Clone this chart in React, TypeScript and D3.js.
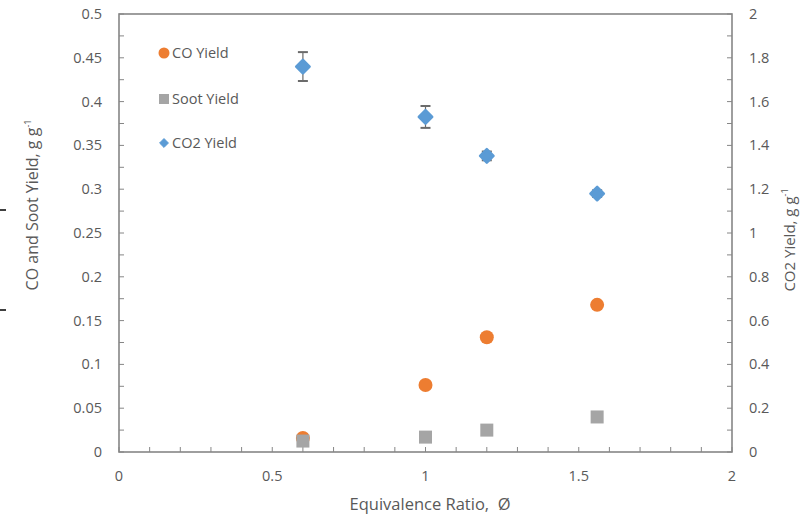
import React from "react";
import * as d3 from "d3";

const ratios = [0.6, 1.0, 1.2, 1.56];
const coYield = [0.016, 0.0765, 0.131, 0.168];
const sootYield = [0.0125, 0.017, 0.025, 0.04];
const co2Yield = [1.76, 1.53, 1.352, 1.18];
const co2Err = [0.066, 0.05, 0.02, 0.015];
const leftTicks = [0, 0.05, 0.1, 0.15, 0.2, 0.25, 0.3, 0.35, 0.4, 0.45, 0.5];
const rightTicks = [0, 0.2, 0.4, 0.6, 0.8, 1, 1.2, 1.4, 1.6, 1.8, 2];
const xTicks = [0, 0.5, 1, 1.5, 2];
const legendItems = ["CO Yield", "Soot Yield", "CO2 Yield"];

const W = 804, H = 517;
const L = 119, R = 732, T = 14, B = 452;
const FONT = "'Open Sans', 'Noto Sans', sans-serif";
const TXT = "#595959";
const AX = "#868686";
const ORANGE = "#ED7D31";
const GREY = "#A5A5A5";
const BLUE = "#5B9BD5";

export default function App() {
  const x = d3.scaleLinear().domain([0, 2]).range([L, R]);
  const yL = d3.scaleLinear().domain([0, 0.5]).range([B, T]);
  const yR = d3.scaleLinear().domain([0, 2]).range([B, T]);
  const minorL = d3.range(0, 0.5001, 0.025);
  const minorR = d3.range(0, 2.0001, 0.1);
  const minorX = d3.range(0, 2.0001, 0.1);
  const fmt = (v: number) => String(+v.toFixed(3));
  const diamond = d3.symbol().type(d3.symbolDiamond2);

  return (
    <svg width={W} height={H} style={{ display: "block", position: "absolute", left: 0, top: 0 }} fontFamily={FONT}>
      <rect width={W} height={H} fill="#fff" />
      {/* stray dashes at left edge */}
      <line x1={0} x2={6} y1={210} y2={210} stroke="#000" strokeWidth={1.5} />
      <line x1={0} x2={6} y1={310} y2={310} stroke="#000" strokeWidth={1.5} />
      {/* frame */}
      <rect x={L} y={T} width={R - L} height={B - T} fill="none" stroke={AX} strokeWidth={1.6} />
      {minorL.map((v, i) => (
        <line key={"lt" + i} x1={L} x2={L + 5} y1={yL(v)} y2={yL(v)} stroke={AX} strokeWidth={1} />
      ))}
      {minorR.map((v, i) => (
        <line key={"rt" + i} x1={R - 5} x2={R} y1={yR(v)} y2={yR(v)} stroke={AX} strokeWidth={1} />
      ))}
      {minorX.map((v, i) => (
        <line key={"xt" + i} x1={x(v)} x2={x(v)} y1={B} y2={B - 5} stroke={AX} strokeWidth={1} />
      ))}
      {leftTicks.map((v, i) => (
        <text key={"ll" + i} x={102} y={yL(v)} dy="0.35em" textAnchor="end" fontSize={14.5} fill={TXT}>{fmt(v)}</text>
      ))}
      {rightTicks.map((v, i) => (
        <text key={"rl" + i} x={749} y={yR(v)} dy="0.35em" textAnchor="start" fontSize={14.5} fill={TXT}>{fmt(v)}</text>
      ))}
      {xTicks.map((v, i) => (
        <text key={"xl" + i} x={x(v)} y={476} dy="0.35em" textAnchor="middle" fontSize={14.5} fill={TXT}>{fmt(v)}</text>
      ))}
      {/* axis titles */}
      <text x={430} y={504} dy="0.35em" textAnchor="middle" fontSize={16.5} fill={TXT}>{"Equivalence Ratio,\u00A0 Ø"}</text>
      <text transform={`translate(32,205) rotate(-90)`} textAnchor="middle" dy="0.35em" fontSize={16} fill={TXT}>
        CO and Soot Yield, g g<tspan fontSize={9} dy="-7">-1</tspan>
      </text>
      <text transform={`translate(790,240) rotate(-90)`} textAnchor="middle" dy="0.35em" fontSize={15} fill={TXT}>
        CO2 Yield, g g<tspan fontSize={9} dy="-7">-1</tspan>
      </text>
      {/* CO2 error bars */}
      {ratios.map((r, i) => (
        <g key={"eb" + i} stroke="#6b6b6b" strokeWidth={1.2}>
          <line x1={x(r)} x2={x(r)} y1={yR(co2Yield[i] + co2Err[i])} y2={yR(co2Yield[i] - co2Err[i])} />
          <line x1={x(r) - 5} x2={x(r) + 5} y1={yR(co2Yield[i] + co2Err[i])} y2={yR(co2Yield[i] + co2Err[i])} strokeWidth={2} />
          <line x1={x(r) - 5} x2={x(r) + 5} y1={yR(co2Yield[i] - co2Err[i])} y2={yR(co2Yield[i] - co2Err[i])} strokeWidth={2} />
        </g>
      ))}
      {/* CO2 diamonds */}
      {ratios.map((r, i) => (
        <path key={"co2" + i} d={diamond.size(115)() as string} transform={`translate(${x(r)},${yR(co2Yield[i])})`} fill={BLUE} stroke={BLUE} strokeWidth={2.5} strokeLinejoin="round" />
      ))}
      {/* CO circles */}
      {ratios.map((r, i) => (
        <circle key={"co" + i} cx={x(r)} cy={yL(coYield[i])} r={7} fill={ORANGE} />
      ))}
      {/* soot squares */}
      {ratios.map((r, i) => (
        <rect key={"s" + i} x={x(r) - 6.5} y={yL(sootYield[i]) - 6.5} width={13} height={13} fill={GREY} />
      ))}
      {/* legend */}
      <g>
        <circle cx={164} cy={53} r={5.5} fill={ORANGE} />
        <rect x={159} y={94} width={10} height={10} fill={GREY} />
        <path d={diamond.size(50)() as string} transform="translate(164,143)" fill={BLUE} stroke={BLUE} strokeWidth={1} strokeLinejoin="round" />
        {legendItems.map((t, i) => (
          <text key={"lg" + i} x={172} y={[53, 99, 143][i]} dy="0.35em" fontSize={14.5} fill={TXT}>{t}</text>
        ))}
      </g>
    </svg>
  );
}
